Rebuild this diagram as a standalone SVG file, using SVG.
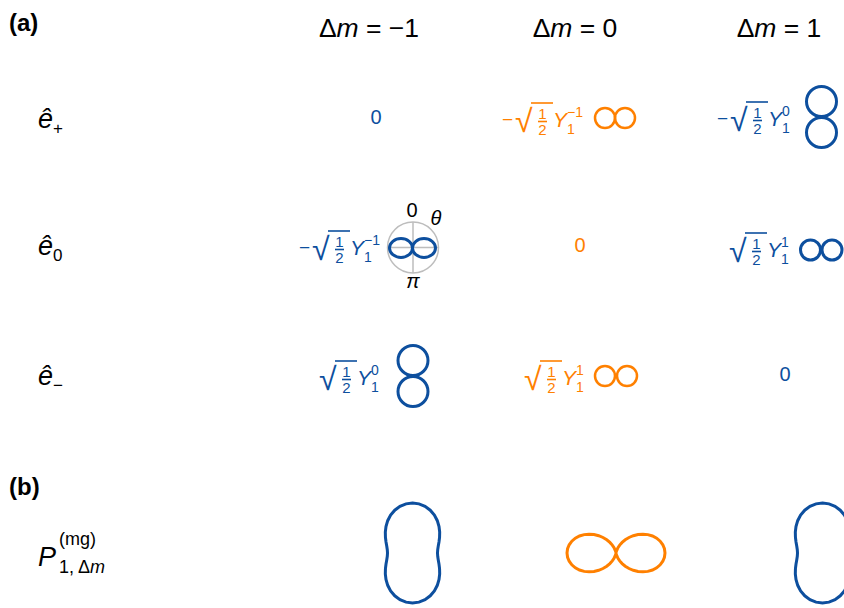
<svg xmlns="http://www.w3.org/2000/svg" width="844" height="608" viewBox="0 0 844 608">
<style>
text{font-family:"Liberation Sans",Arial,sans-serif;fill:#000}
.hd{font-size:26.5px}
.lab{font-size:24px;font-weight:bold}
.row{font-size:27px;font-style:italic}
.rs{font-size:17px;font-style:normal}
.b text,.b{fill:#0d4f9e}
.o text,.o{fill:#ff8000}
.f{font-size:21px}
.mn{font-size:19px}
.sm{font-size:15px}
.ss{font-size:14px}
.rad{font-size:32px}
.it{font-style:italic}
.zero{font-size:20px;text-anchor:middle}
.lb{stroke:#0d4f9e;fill:none;stroke-width:3}
.lo{stroke:#ff8000;fill:none;stroke-width:3}
.vb{stroke:#0d4f9e;stroke-width:1.6}
.vo{stroke:#ff8000;stroke-width:1.6}
</style>
<defs>
<path id="peanut" d="M0,-50 L6.47,-49.150 12.51,-46.68 17.73,-42.81 21.88,-37.89 24.80,-32.32 26.52,-26.52 27.18,-20.86 27.06,-15.63 26.48,-10.97 25.77,-6.90 25.21,-3.32 25,0 25.21,3.32 25.77,6.90 26.48,10.97 27.06,15.63 27.18,20.86 26.52,26.52 24.80,32.32 21.88,37.89 17.73,42.81 12.51,46.68 6.47,49.15 0,50 -6.47,49.15 -12.51,46.68 -17.73,42.81 -21.88,37.89 -24.80,32.32 -26.52,26.52 -27.18,20.86 -27.06,15.63 -26.48,10.97 -25.77,6.90 -25.21,3.32 -25,0 -25.21,-3.32 -25.77,-6.90 -26.48,-10.97 -27.06,-15.63 -27.18,-20.86 -26.52,-26.52 -24.80,-32.32 -21.88,-37.89 -17.73,-42.81 -12.51,-46.68 -6.47,-49.15 Z"/>
<path id="dipole" d="M0,0 L0.26,-1.46 1.96,-5.39 3.70,-7.93 6.13,-10.61 9.25,-13.21 13.01,-15.51 17.32,-17.32 22.03,-18.48 26.93,-18.86 31.83,-18.38 36.48,-17.01 40.66,-14.80 44.16,-11.83 46.80,-8.25 48.44,-4.24 49,0 48.44,4.24 46.80,8.25 44.16,11.83 40.66,14.80 36.48,17.01 31.83,18.38 26.93,18.86 22.03,18.48 17.32,17.32 13.01,15.51 9.25,13.21 6.13,10.61 3.70,7.93 1.96,5.39 0.26,1.46 0,0 -0.26,-1.46 -1.96,-5.39 -3.70,-7.93 -6.13,-10.61 -9.25,-13.21 -13.01,-15.51 -17.32,-17.32 -22.03,-18.48 -26.93,-18.86 -31.83,-18.38 -36.48,-17.01 -40.66,-14.80 -44.16,-11.83 -46.80,-8.25 -48.44,-4.24 -49,0 -48.44,4.24 -46.80,8.25 -44.16,11.83 -40.66,14.80 -36.48,17.01 -31.83,18.38 -26.93,18.86 -22.03,18.48 -17.32,17.32 -13.01,15.51 -9.25,13.21 -6.13,10.61 -3.70,7.93 -1.96,5.39 -0.26,1.46 Z"/>
</defs>

<g id="labels">
<text class="lab" x="9" y="31">(a)</text>
<text class="lab" x="9" y="495">(b)</text>
</g>

<g id="headers">
<text class="hd" x="369" y="37" text-anchor="middle">Δ<tspan class="it">m</tspan> =  −1</text>
<text class="hd" x="575" y="37" text-anchor="middle">Δ<tspan class="it">m</tspan> = 0</text>
<text class="hd" x="779" y="37" text-anchor="middle">Δ<tspan class="it">m</tspan> = 1</text>
</g>

<g id="row-labels">
<text class="row" x="38" y="128">ê<tspan class="rs" dy="6">+</tspan></text>
<text class="row" x="38" y="255">ê<tspan class="rs" dy="6">0</tspan></text>
<text class="row" x="38" y="385">ê<tspan class="rs" dy="6">−</tspan></text>
</g>

<!-- row e+ -->
<g id="ep-m1" class="b"><text class="zero" x="376" y="124">0</text></g>
<g id="ep-0" class="o">
<g transform="translate(553,127)">
<text class="mn" x="-51" y="-1">−</text>
<text class="rad" x="-38" y="5">√</text>
<line class="vo" x1="-22" y1="-24" x2="0" y2="-24"/>
<text class="sm" x="-10.5" y="-8" text-anchor="middle">1</text>
<line class="vo" x1="-15" y1="-5.5" x2="-6" y2="-5.5"/>
<text class="sm" x="-10.5" y="7.5" text-anchor="middle">2</text>
<text class="f it" x="0" y="0">Y</text>
<text class="ss" x="14" y="7">1</text>
<text class="ss" x="14" y="-10">−1</text>
</g>
<circle class="lo" cx="605" cy="118" r="10" style="stroke-width:2.5"/>
<circle class="lo" cx="625" cy="118" r="10" style="stroke-width:2.5"/>
</g>
<g id="ep-p1" class="b">
<g transform="translate(768,126)">
<text class="mn" x="-51" y="-1">−</text>
<text class="rad" x="-38" y="5">√</text>
<line class="vb" x1="-22" y1="-24" x2="0" y2="-24"/>
<text class="sm" x="-10.5" y="-8" text-anchor="middle">1</text>
<line class="vb" x1="-15" y1="-5.5" x2="-6" y2="-5.5"/>
<text class="sm" x="-10.5" y="7.5" text-anchor="middle">2</text>
<text class="f it" x="0" y="0">Y</text>
<text class="ss" x="14" y="7">1</text>
<text class="ss" x="14" y="-10">0</text>
</g>
<circle class="lb" cx="821.5" cy="101.5" r="15"/>
<circle class="lb" cx="821.5" cy="132.5" r="15"/>
</g>

<!-- row e0 -->
<g id="e0-m1" class="b">
<g transform="translate(350,255)">
<text class="mn" x="-51" y="-1">−</text>
<text class="rad" x="-38" y="5">√</text>
<line class="vb" x1="-22" y1="-24" x2="0" y2="-24"/>
<text class="sm" x="-10.5" y="-8" text-anchor="middle">1</text>
<line class="vb" x1="-15" y1="-5.5" x2="-6" y2="-5.5"/>
<text class="sm" x="-10.5" y="7.5" text-anchor="middle">2</text>
<text class="f it" x="0" y="0">Y</text>
<text class="ss" x="14" y="7">1</text>
<text class="ss" x="14" y="-10">−1</text>
</g>
<circle cx="413" cy="247.5" r="25.5" fill="none" stroke="#bdbdbd" stroke-width="1.5"/>
<line x1="413" y1="222" x2="413" y2="273" stroke="#bdbdbd" stroke-width="1.5"/>
<line x1="387.5" y1="247.5" x2="438.5" y2="247.5" stroke="#bdbdbd" stroke-width="1.5"/>
<ellipse class="lb" cx="401" cy="248" rx="11.5" ry="9.5"/>
<ellipse class="lb" cx="424" cy="248" rx="11.5" ry="9.5"/>
<text x="412" y="217" text-anchor="middle" style="font-size:20px;fill:#000">0</text>
<text x="436" y="225" text-anchor="middle" style="font-size:20px;font-style:italic;fill:#000">θ</text>
<text x="413" y="288" text-anchor="middle" style="font-size:20px;font-style:italic;fill:#000">π</text>
</g>
<g id="e0-0" class="o"><text class="zero" x="580" y="252">0</text></g>
<g id="e0-p1" class="b">
<g transform="translate(767,257)">
<text class="rad" x="-38" y="5">√</text>
<line class="vb" x1="-22" y1="-24" x2="0" y2="-24"/>
<text class="sm" x="-10.5" y="-8" text-anchor="middle">1</text>
<line class="vb" x1="-15" y1="-5.5" x2="-6" y2="-5.5"/>
<text class="sm" x="-10.5" y="7.5" text-anchor="middle">2</text>
<text class="f it" x="0" y="0">Y</text>
<text class="ss" x="14" y="7">1</text>
<text class="ss" x="14" y="-10">1</text>
</g>
<circle class="lb" cx="810.5" cy="250" r="10"/>
<circle class="lb" cx="832" cy="250" r="10"/>
</g>

<!-- row e- -->
<g id="em-m1" class="b">
<g transform="translate(357,385)">
<text class="rad" x="-38" y="5">√</text>
<line class="vb" x1="-22" y1="-24" x2="0" y2="-24"/>
<text class="sm" x="-10.5" y="-8" text-anchor="middle">1</text>
<line class="vb" x1="-15" y1="-5.5" x2="-6" y2="-5.5"/>
<text class="sm" x="-10.5" y="7.5" text-anchor="middle">2</text>
<text class="f it" x="0" y="0">Y</text>
<text class="ss" x="14" y="7">1</text>
<text class="ss" x="14" y="-10">0</text>
</g>
<circle class="lb" cx="413" cy="360.5" r="15"/>
<circle class="lb" cx="413" cy="391.5" r="15"/>
</g>
<g id="em-0" class="o">
<g transform="translate(562,385)">
<text class="rad" x="-38" y="5">√</text>
<line class="vo" x1="-22" y1="-24" x2="0" y2="-24"/>
<text class="sm" x="-10.5" y="-8" text-anchor="middle">1</text>
<line class="vo" x1="-15" y1="-5.5" x2="-6" y2="-5.5"/>
<text class="sm" x="-10.5" y="7.5" text-anchor="middle">2</text>
<text class="f it" x="0" y="0">Y</text>
<text class="ss" x="14" y="7">1</text>
<text class="ss" x="14" y="-10">1</text>
</g>
<circle class="lo" cx="605" cy="376" r="10" style="stroke-width:2.5"/>
<circle class="lo" cx="627" cy="376" r="10" style="stroke-width:2.5"/>
</g>
<g id="em-p1" class="b"><text class="zero" x="785" y="381">0</text></g>

<!-- (b) -->
<g id="p-label">
<text x="38" y="566" style="font-size:27px;font-style:italic">P</text>
<text x="59" y="545" style="font-size:18px">(mg)</text>
<text x="59" y="573" style="font-size:18px">1, Δ<tspan class="it">m</tspan></text>
</g>
<g id="pattern-m1"><use href="#peanut" class="lb" transform="translate(412.5,553)"/></g>
<g id="pattern-0"><use href="#dipole" class="lo" transform="translate(616,553)"/></g>
<g id="pattern-p1"><use href="#peanut" class="lb" transform="translate(822.5,553)"/></g>
<g id="connectors"/>
</svg>
